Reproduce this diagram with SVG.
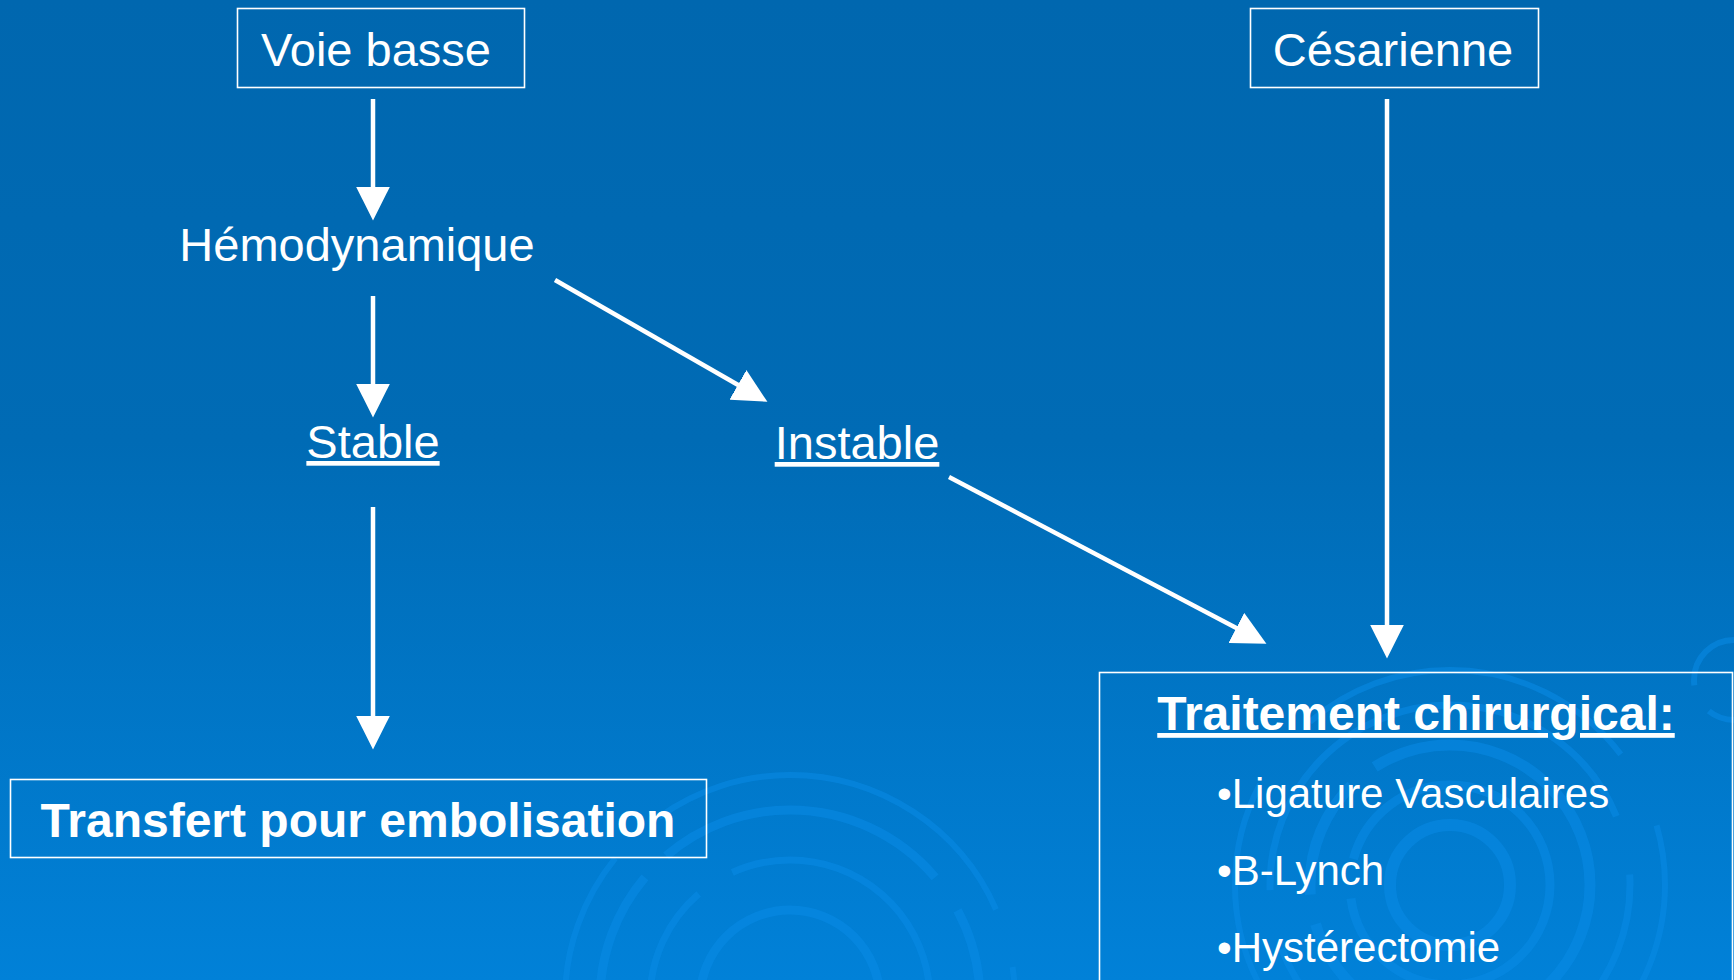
<svg xmlns="http://www.w3.org/2000/svg" width="1734" height="980" viewBox="0 0 1734 980">
<defs>
<linearGradient id="bg" x1="0" y1="0" x2="0" y2="1">
<stop offset="0" stop-color="#0067AF"/>
<stop offset="0.45" stop-color="#006BB5"/>
<stop offset="1" stop-color="#0181D8"/>
</linearGradient>
<marker id="ah" markerUnits="userSpaceOnUse" markerWidth="34" markerHeight="34" viewBox="0 0 31 31" refX="25" refY="15.5" orient="auto">
<path d="M0,0 L31,15.5 L0,31 z" fill="#ffffff"/>
</marker>
<style>
.lbl{font-family:"Liberation Sans",Arial,sans-serif;fill:#ffffff;font-size:47px;text-anchor:middle}
.bold{font-weight:bold;font-size:48px}
.bul{font-family:"Liberation Sans",Arial,sans-serif;fill:#ffffff;font-size:42px}
.box{fill:none;stroke:#ffffff;stroke-width:1.6}
.conn{stroke:#ffffff;stroke-width:4.5;fill:none;marker-end:url(#ah)}
.ring{fill:none;stroke:#0A8AE6;stroke-opacity:0.55}
</style>
</defs>
<rect width="1734" height="980" fill="url(#bg)"/>
<g id="decor">
<circle class="ring" cx="1450" cy="885" r="60" stroke-width="12"/>
<circle class="ring" cx="1450" cy="885" r="100" stroke-width="9" stroke-dasharray="300 40"/>
<circle class="ring" cx="1450" cy="885" r="140" stroke-width="11" stroke-dasharray="400 30 120 30"/>
<circle class="ring" cx="1450" cy="885" r="180" stroke-width="7" stroke-dasharray="500 60"/>
<circle class="ring" cx="1450" cy="885" r="215" stroke-width="6" stroke-dasharray="350 80"/>
<circle class="ring" cx="790" cy="1000" r="90" stroke-width="9"/>
<circle class="ring" cx="790" cy="1000" r="140" stroke-width="7" stroke-dasharray="260 40"/>
<circle class="ring" cx="790" cy="1000" r="190" stroke-width="9" stroke-dasharray="180 30 300 40"/>
<circle class="ring" cx="790" cy="1000" r="225" stroke-width="6" stroke-dasharray="400 60"/>
<circle class="ring" cx="1734" cy="680" r="40" stroke-width="6" stroke-dasharray="90 30"/>
</g>
<g id="connectors">
<line class="conn" x1="373" y1="99" x2="373" y2="214"/>
<line class="conn" x1="373" y1="296" x2="373" y2="411"/>
<line class="conn" x1="373" y1="507" x2="373" y2="743"/>
<line class="conn" x1="555" y1="280" x2="761.7" y2="398.5"/>
<line class="conn" x1="949" y1="477" x2="1260.6" y2="640.7"/>
<line class="conn" x1="1387" y1="99" x2="1387" y2="652"/>
</g>
<g id="voie-basse">
<rect class="box" x="237.5" y="8.5" width="287" height="79"/>
<text class="lbl" x="376" y="66">Voie basse</text>
</g>
<g id="cesarienne">
<rect class="box" x="1250.5" y="8.5" width="288" height="79"/>
<text class="lbl" x="1393" y="66">Césarienne</text>
</g>
<g id="hemodynamique">
<text class="lbl" x="357" y="261">Hémodynamique</text>
</g>
<g id="stable">
<text class="lbl" x="373" y="458" text-decoration="underline">Stable</text>
</g>
<g id="instable">
<text class="lbl" x="857" y="459" text-decoration="underline">Instable</text>
</g>
<g id="transfert">
<rect class="box" x="10.5" y="779.5" width="696" height="78"/>
<text class="lbl bold" x="358" y="837">Transfert pour embolisation</text>
</g>
<g id="traitement">
<rect class="box" x="1099.5" y="672.5" width="633" height="320"/>
<text class="lbl bold" x="1416" y="730" text-decoration="underline">Traitement chirurgical:</text>
<text class="bul" x="1217" y="808">•Ligature Vasculaires</text>
<text class="bul" x="1217" y="885">•B-Lynch</text>
<text class="bul" x="1217" y="962">•Hystérectomie</text>
</g>
</svg>
